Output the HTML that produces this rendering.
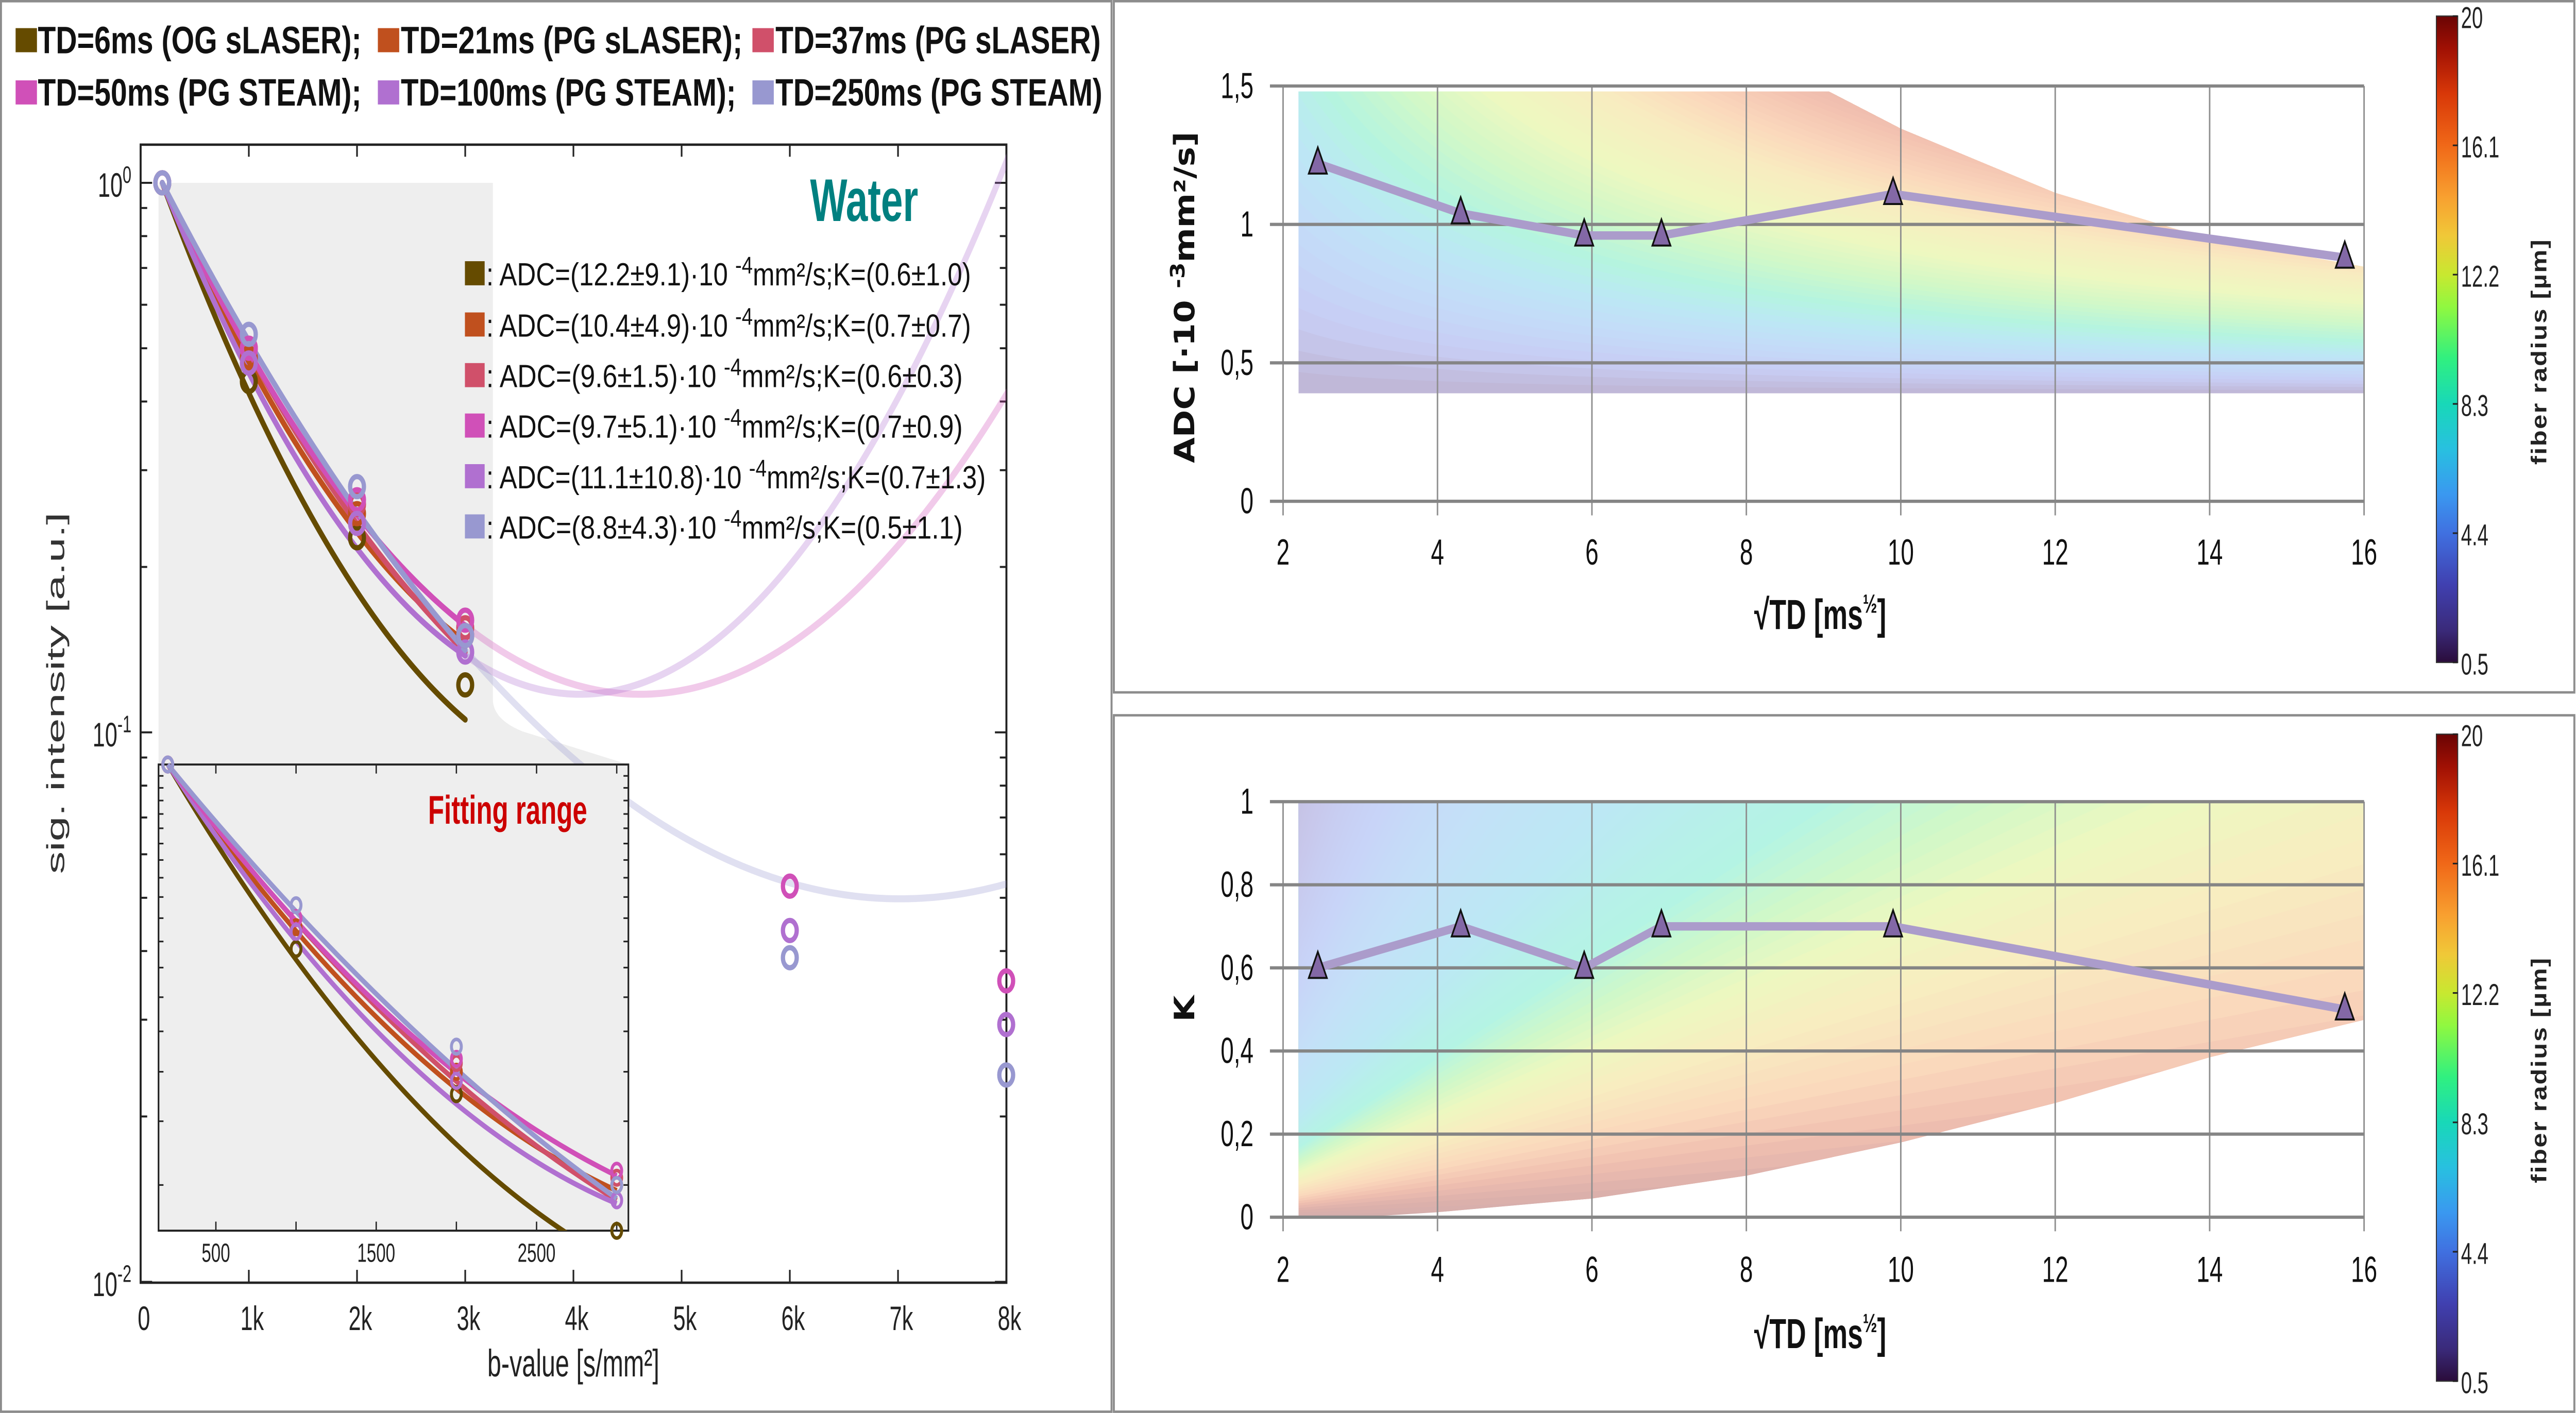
<!DOCTYPE html>
<html><head><meta charset="utf-8">
<style>
html,body{margin:0;padding:0;background:#fff;overflow:hidden;width:100%;height:100%;}
svg{display:block;width:100vw;height:100vh;}
.n{font-family:"Liberation Sans Narrow","Liberation Sans",sans-serif;}
.s{font-family:"Liberation Sans","DejaVu Sans",sans-serif;}
.d{font-family:"DejaVu Sans","Liberation Sans",sans-serif;}
</style></head>
<body>
<svg id="svg" xmlns="http://www.w3.org/2000/svg" viewBox="0 0 1568 703.25" preserveAspectRatio="none">
<defs>
<linearGradient id="cbar" x1="0" y1="1" x2="0" y2="0">
<stop offset="0" stop-color="#2a0c3a"/><stop offset="0.05" stop-color="#3a2a7a"/><stop offset="0.12" stop-color="#4040b0"/><stop offset="0.2" stop-color="#4070e0"/><stop offset="0.26" stop-color="#3a98f0"/><stop offset="0.33" stop-color="#28c0e0"/><stop offset="0.4" stop-color="#18d8b8"/><stop offset="0.47" stop-color="#30f080"/><stop offset="0.55" stop-color="#90f840"/><stop offset="0.6" stop-color="#c8e830"/><stop offset="0.66" stop-color="#f0c838"/><stop offset="0.72" stop-color="#f8a030"/><stop offset="0.8" stop-color="#f06818"/><stop offset="0.88" stop-color="#d83808"/><stop offset="0.95" stop-color="#a01004"/><stop offset="1" stop-color="#6a0404"/>
</linearGradient>
<clipPath id="mainClip"><rect x="85.6" y="72" width="527" height="566.4"/></clipPath>
<clipPath id="insetClip"><rect x="96.5" y="378" width="286" height="234.5"/></clipPath>
<clipPath id="adcClip"><polygon id="adcRegion" points=""/></clipPath>
<clipPath id="kClip"><polygon id="kRegion" points=""/></clipPath>
</defs>

<rect x="0.6" y="0.6" width="676" height="702" fill="none" stroke="#8c8c8c" stroke-width="1.2"/>
<rect x="678" y="0.6" width="889" height="344" fill="none" stroke="#8c8c8c" stroke-width="1.2"/>
<rect x="678" y="356" width="889" height="346.6" fill="none" stroke="#8c8c8c" stroke-width="1.2"/>

<g class="n" font-weight="bold" font-size="19" fill="#111">
<g><rect x="9.5" y="14" width="13" height="12" fill="#654b00"/><text data-fixed="1" x="23" y="26.5" textLength="197" lengthAdjust="spacingAndGlyphs">TD=6ms (OG sLASER);</text></g>
<g><rect x="230" y="14" width="13" height="12" fill="#c0501e"/><text data-fixed="1" x="244" y="26.5" textLength="208" lengthAdjust="spacingAndGlyphs">TD=21ms (PG sLASER);</text></g>
<g><rect x="458" y="14" width="13" height="12" fill="#d0506a"/><text data-fixed="1" x="472" y="26.5" textLength="198" lengthAdjust="spacingAndGlyphs">TD=37ms (PG sLASER)</text></g>
<g><rect x="9.5" y="40" width="13" height="12" fill="#d050b8"/><text data-fixed="1" x="23" y="52.5" textLength="197" lengthAdjust="spacingAndGlyphs">TD=50ms (PG STEAM);</text></g>
<g><rect x="230" y="40" width="13" height="12" fill="#b070d0"/><text data-fixed="1" x="244" y="52.5" textLength="204" lengthAdjust="spacingAndGlyphs">TD=100ms (PG STEAM);</text></g>
<g><rect x="458" y="40" width="13" height="12" fill="#9898d0"/><text data-fixed="1" x="472" y="52.5" textLength="199" lengthAdjust="spacingAndGlyphs">TD=250ms (PG STEAM)</text></g>
</g>

<g id="left"></g>
<g id="adc"></g>
<g id="kchart"></g>
</svg>

<script>
// ===== Left chart data =====
const bVals = [200, 1000, 2000, 3000];
const sigTD6 = [1, 0.435, 0.226, 0.122];
const sigTD21 = [1, 0.48, 0.25, 0.15];
const sigTD37 = [1, 0.50, 0.26, 0.155];
const sigTD50 = [1, 0.50, 0.265, 0.16];
const sigTD100 = [1, 0.47, 0.24, 0.14];
const sigTD250 = [1, 0.53, 0.28, 0.15];
const highB = [6000, 8000];
const highTD50 = [0.0525, 0.0353];
const highTD100 = [0.0436, 0.0294];
const highTD250 = [0.0389, 0.0238];
const adcFit = [12.2, 10.4, 9.6, 9.7, 11.1, 8.8];
const adcErr = [9.1, 4.9, 1.5, 5.1, 10.8, 4.3];
const kFit = [0.6, 0.7, 0.6, 0.7, 0.7, 0.5];
const kErr = [1.0, 0.7, 0.3, 0.9, 1.3, 1.1];
const xTickVals = [0, 1000, 2000, 3000, 4000, 5000, 6000, 7000, 8000];
const xTickLabels = ["0", "1k", "2k", "3k", "4k", "5k", "6k", "7k", "8k"];
const insetTickVals = [500, 1500, 2500];
// ===== Right charts data =====
const sqrtTD = [2.45, 4.3, 5.9, 6.9, 9.9, 15.75];
const adcVals = [1.22, 1.04, 0.96, 0.96, 1.11, 0.88];
const kVals = [0.6, 0.7, 0.6, 0.7, 0.7, 0.5];
const tdTicks = [2, 4, 6, 8, 10, 12, 14, 16];
const adcTicks = [0, 0.5, 1, 1.5];
const adcTickLabels = ["0", "0,5", "1", "1,5"];
const kTicks = [0, 0.2, 0.4, 0.6, 0.8, 1];
const kTickLabels = ["0", "0,2", "0,4", "0,6", "0,8", "1"];
const cbarTicks = [0.5, 4.4, 8.3, 12.2, 16.1, 20];
const adcUpperX = [2.2, 9.07, 10, 12, 14, 16];
const adcUpperY = [1.48, 1.48, 1.346, 1.114, 0.947, 0.847];
const kLowerX = [16, 14, 12, 10, 8, 6, 4, 3, 2.2];
const kLowerY = [0.475, 0.385, 0.275, 0.18, 0.1, 0.045, 0.012, 0, 0];

const NS = "http://www.w3.org/2000/svg";
function mk(parent, tag, attrs, txt) {
  const e = document.createElementNS(NS, tag);
  for (const k in attrs) e.setAttribute(k, attrs[k]);
  if (txt !== undefined) e.textContent = txt;
  parent.appendChild(e);
  return e;
}
const colors = ["#654b00", "#c0501e", "#d0506a", "#d050b8", "#b070d0", "#9898d0"];
const sigAll = [sigTD6, sigTD21, sigTD37, sigTD50, sigTD100, sigTD250];

const X = b => 85.6 + b * 0.06586;
const Y = s => 91 - 273.5 * Math.log10(s);
const IX = b => 131.4 + (b - 500) * 0.0976;
const IY = s => 380.5 - 254 * Math.log10(s);
function fit(b, D, K) { const x = (b - 200) * D * 1e-4; return Math.exp(-x + x * x * K / 6); }
function curvePath(xs, ys, D, K, b1, b2) {
  let d = "";
  for (let b = b1; b <= b2 + 0.1; b += 25) {
    d += (d ? "L" : "M") + xs(b).toFixed(2) + "," + ys(fit(b, D, K)).toFixed(2);
  }
  return d;
}

const L = document.getElementById("left");
const gr = mk(L, "path", {d: "M96.5,91 L300,91 L300,348 Q300,358 318,364 L382.5,380.5 L96.5,380.5 Z", fill: "#eeeeee"});


const box = mk(L, "rect", {x: 85.6, y: 72, width: 527, height: 566.4, fill: "none", stroke: "#222", "stroke-width": 1.2});


const tk = mk(L, "g", {stroke: "#222", "stroke-width": 1});


xTickVals.forEach(v => {
  mk(tk, "line", {x1: X(v), x2: X(v), y1: 638.4, y2: 632});
  mk(tk, "line", {x1: X(v), x2: X(v), y1: 72, y2: 78});
});
for (let d = -2; d <= 0; d++) {
  for (let m = 1; m <= 9; m++) {
    const v = m * Math.pow(10, d);
    if (v > 1.2) continue;
    const y = Y(v);
    const len = m === 1 ? 7 : 4;
    mk(tk, "line", {x1: 85.6, x2: 85.6 + len, y1: y, y2: y});
    mk(tk, "line", {x1: 612.6, x2: 612.6 - len, y1: y, y2: y});
  }
}
const xl = mk(L, "g", {class: "n", "font-size": 17, fill: "#222", "text-anchor": "middle"});


xTickVals.forEach((v, i) => mk(xl, "text", {x: X(v) + 2, y: 662}, xTickLabels[i]));
const yl = mk(L, "g", {class: "n", "font-size": 17, fill: "#222", "text-anchor": "end"});


[0, -1, -2].forEach(p => {
  const t = mk(yl, "text", {x: 80, y: Y(Math.pow(10, p)) + 7});
  mk(t, "tspan", {}, "10");
  mk(t, "tspan", {dy: -7, "font-size": 12}, String(p));
});
const xt = mk(L, "text", {x: 349, y: 685, class: "n", "font-size": 19, fill: "#222", "text-anchor": "middle"}, "b-value [s/mm²]");


const yt = mk(L, "text", {x: 0, y: 0, class: "s", "data-fixed": "1", "font-size": 15, fill: "#333", "text-anchor": "middle", transform: "translate(39,345) rotate(-90)", textLength: 180, lengthAdjust: "spacingAndGlyphs"}, "sig. intensity [a.u.]");



const mc = mk(L, "g", {"clip-path": "url(#mainClip)", fill: "none", "stroke-linecap": "round"});


[3, 4, 5].forEach(i => {
  const p = mk(mc, "path", {d: curvePath(X, Y, adcFit[i], kFit[i], 3000, 8400), stroke: colors[i], "stroke-width": 3.5, opacity: 0.3});
  
  
});
sigAll.forEach((s, i) => {
  const p = mk(mc, "path", {d: curvePath(X, Y, adcFit[i], kFit[i], 200, 3000), stroke: colors[i], "stroke-width": 3});
  
  
});
const mp = mk(L, "g", {fill: "none", "stroke-width": 2.6});


sigAll.forEach((s, i) => {
  s.forEach((v, j) => {
    const c = mk(mp, "ellipse", {cx: X(bVals[j]), cy: Y(v), rx: 4.2, ry: 5, stroke: colors[i]});
    
    
  });
});
[[highTD50, 3], [highTD100, 4], [highTD250, 5]].forEach(([arr, i]) => {
  arr.forEach((v, j) => {
    const c = mk(mp, "ellipse", {cx: X(highB[j]), cy: Y(v), rx: 4.2, ry: 5, stroke: colors[i]});
    
    
  });
});

const wt = mk(L, "text", {x: 526, y: 110, class: "n", "font-size": 30, "font-weight": "bold", fill: "#008080", "text-anchor": "middle"}, "Water");


const fl = mk(L, "g", {class: "n", "font-size": 16, fill: "#111"});


const rowsY = [136, 161.5, 186.7, 211.8, 237, 262];
const rowLen = [295, 295, 290, 290, 304, 290];
adcFit.forEach((a, i) => {
  const g = mk(fl, "g", {});
  
  
  mk(g, "rect", {x: 283, y: rowsY[i] - 6, width: 12, height: 12, fill: colors[i]});
  const t = mk(g, "text", {x: 296, y: rowsY[i] + 6, "data-fixed": "1", textLength: rowLen[i], lengthAdjust: "spacingAndGlyphs"});
  mk(t, "tspan", {}, ": ADC=(" + a.toFixed(1) + "±" + adcErr[i].toFixed(1) + ")·10 ");
  mk(t, "tspan", {dy: -6, "font-size": 12}, "-4");
  mk(t, "tspan", {dy: 6}, "mm²/s;K=(" + kFit[i].toFixed(1) + "±" + kErr[i].toFixed(1) + ")");
});

const ins = mk(L, "g", {});


mk(ins, "rect", {x: 96.5, y: 380.5, width: 286, height: 232, fill: "#eeeeee", stroke: "#222", "stroke-width": 1});
const itk = mk(ins, "g", {stroke: "#222", "stroke-width": 0.8});
[500, 1000, 1500, 2000, 2500, 3000].forEach(v => {
  mk(itk, "line", {x1: IX(v), x2: IX(v), y1: 612.5, y2: 608});
  mk(itk, "line", {x1: IX(v), x2: IX(v), y1: 380.5, y2: 385});
});
for (let m = 1; m <= 10; m += 0.5) {
  const y = IY(m / 10);
  if (y < 381 || y > 612) continue;
  mk(itk, "line", {x1: 96.5, x2: 99.5, y1: y, y2: y});
  mk(itk, "line", {x1: 382.5, x2: 379.5, y1: y, y2: y});
}
const il = mk(ins, "g", {class: "n", "font-size": 13, fill: "#222", "text-anchor": "middle"});
insetTickVals.forEach(v => mk(il, "text", {x: IX(v), y: 628}, String(v)));
const ic = mk(ins, "g", {"clip-path": "url(#insetClip)", fill: "none"});
[0, 1, 2, 4, 3, 5].forEach(order => {
  const p = mk(ic, "path", {d: curvePath(IX, IY, adcFit[order], kFit[order], 200, 3000), stroke: colors[order], "stroke-width": 2.6});
  
  
});
sigAll.forEach((s, i) => {
  s.forEach((v, j) => {
    const c = mk(ins, "ellipse", {cx: IX(bVals[j]), cy: IY(v), rx: 3, ry: 3.6, fill: "none", stroke: colors[i], "stroke-width": 1.8});
    
    
  });
});
const fr = mk(ins, "text", {x: 309, y: 410, class: "n", "font-size": 20, "font-weight": "bold", fill: "#cc0000", "text-anchor": "middle"}, "Fitting range");



// ===== Right charts =====
const TX = t => 781 + 47 * (t - 2);
function lerpColor(stops, v) {
  if (v <= stops[0][0]) return stops[0][1];
  for (let i = 1; i < stops.length; i++) {
    if (v <= stops[i][0]) {
      const [a, ca] = stops[i - 1], [b, cb] = stops[i];
      const f = (v - a) / (b - a);
      const pa = [1, 3, 5].map(k => parseInt(ca.substr(k, 2), 16));
      const pb = [1, 3, 5].map(k => parseInt(cb.substr(k, 2), 16));
      return "rgb(" + pa.map((x, k) => Math.round(x + (pb[k] - x) * f)).join(",") + ")";
    }
  }
  return stops[stops.length - 1][1];
}
function drawColorbar(g, top, bottom) {
  const r = mk(g, "rect", {x: 1483, y: top, width: 13, height: bottom - top, fill: "url(#cbar)", stroke: "#333", "stroke-width": 0.6});
  
  
  const lab = mk(g, "g", {class: "n", "font-size": 15, fill: "#222"});
  
  
  cbarTicks.forEach(v => {
    const y = bottom - (v - 0.5) / 19.5 * (bottom - top);
    mk(g, "line", {x1: 1493, x2: 1496, y1: y, y2: y, stroke: "#222", "stroke-width": 0.8});
    mk(lab, "text", {x: 1498, y: y + 6}, String(v));
  });
  const t = mk(g, "text", {x: 0, y: 0, class: "s", "data-fixed": "1", "font-size": 13, "font-weight": "bold", fill: "#222", "text-anchor": "middle", transform: "translate(1550," + (top + (bottom - top) * 0.52) + ") rotate(-90)", textLength: 112, lengthAdjust: "spacing"}, "fiber radius [µm]");
  
  
}
function drawGrid(g, yTicks, yLabels, YS, yTop, yBot) {
  const gg = mk(g, "g", {});
  
  
  tdTicks.forEach(t => mk(gg, "line", {x1: TX(t), x2: TX(t), y1: yTop, y2: yBot + 7, stroke: "#8f8f8f", "stroke-width": 0.9}));
  yTicks.forEach(v => mk(gg, "line", {x1: 773, x2: TX(16), y1: YS(v), y2: YS(v), stroke: "#858585", "stroke-width": 1.6}));
  const yl = mk(g, "g", {class: "n", "font-size": 18, fill: "#111", "text-anchor": "end"});
  
  
  yTicks.forEach((v, i) => mk(yl, "text", {x: 763, y: YS(v) + 6}, yLabels[i]));
}
function drawSeries(g, ys, YS) {
  let d = "";
  sqrtTD.forEach((t, i) => d += (i ? "L" : "M") + TX(t) + "," + YS(ys[i]));
  const ln = mk(g, "path", {d: d, fill: "none", stroke: "#ab9ccb", "stroke-width": 4.2, "stroke-linejoin": "round"});
  
  
  sqrtTD.forEach((t, i) => {
    const x = TX(t), y = YS(ys[i]);
    const tri = mk(g, "polygon", {points: `${x},${y - 8} ${x - 5.5},${y + 5} ${x + 5.5},${y + 5}`, fill: "#8368a6", stroke: "#111", "stroke-width": 1});
    
    
  });
}
function drawXAxis(g, yLab, yTitle) {
  const xl = mk(g, "g", {class: "n", "font-size": 18, fill: "#111", "text-anchor": "middle"});
  
  
  tdTicks.forEach(t => mk(xl, "text", {x: TX(t), y: yLab}, String(t)));
  const tt = mk(g, "text", {x: 1108, y: yTitle, class: "n", "font-size": 21, "font-weight": "bold", fill: "#111", "text-anchor": "middle"});
  
  
  mk(tt, "tspan", {}, "√TD [ms");
  mk(tt, "tspan", {dy: -8, "font-size": 13}, "½");
  mk(tt, "tspan", {dy: 8}, "]");
}

const A = document.getElementById("adc");
const AY = v => 249.5 - 137.8 * v;
{
  let pts = [[TX(2.2), AY(0.39)]];
  adcUpperX.forEach((x, i) => pts.push([TX(x), AY(adcUpperY[i])]));
  pts.push([TX(16), AY(0.39)]);
  document.getElementById("adcRegion").setAttribute("points", pts.map(p => p.join(",")).join(" "));
  const stops = [[0, "#c0b8d8"], [4000, "#c8cdf4"], [9000, "#c4dcf8"], [14000, "#bce8f4"], [19000, "#b4f4e0"], [26000, "#d0f8c8"], [34000, "#eef8c0"], [44000, "#f8ecc0"], [52000, "#fbd8bc"], [62000, "#f2c0b0"], [75000, "#deb0ab"], [100000, "#d4aeac"]];
  const bg = mk(A, "g", {"clip-path": "url(#adcClip)"});
  
  
  const cx = TX(2.2), cy = AY(0.39);
  for (let t = 0; t <= 110000; t += 1200) {
    let p = [];
    for (let xp = 0; xp <= 700; xp += 5) {
      const yp = Math.min(t / (xp + 113), 300);
      p.push((cx + xp) + "," + (cy - yp));
    }
    p.push((cx + 700) + "," + (cy - 300), cx + "," + (cy - 300));
    mk(bg, "polygon", {points: p.join(" "), fill: lerpColor(stops, t)});
  }
}
drawGrid(A, adcTicks, adcTickLabels, AY, AY(1.5), AY(0));
drawSeries(A, adcVals, AY);
drawXAxis(A, 281, 313);
{
  const t = mk(A, "text", {x: 0, y: 0, class: "d", "data-fixed": "1", "font-size": 17, "font-weight": "bold", fill: "#111", "text-anchor": "middle", transform: "translate(727,148) rotate(-90)", textLength: 165, lengthAdjust: "spacingAndGlyphs"});
  
  
  mk(t, "tspan", {}, "ADC [·10 ");
  mk(t, "tspan", {dy: -6, "font-size": 12}, "-3");
  mk(t, "tspan", {dy: 6}, "mm²/s]");
}
drawColorbar(A, 8, 329.7);

const K = document.getElementById("kchart");
const KY = v => 605.8 - 206.8 * v;
{
  let pts = [[TX(2.2), KY(1)], [TX(16), KY(1)]];
  kLowerX.forEach((x, i) => pts.push([TX(x), KY(kLowerY[i])]));
  document.getElementById("kRegion").setAttribute("points", pts.map(p => p.join(",")).join(" "));
  const stops = [[0, "#d4aeac"], [0.01, "#ddb0ab"], [0.022, "#f0c0b0"], [0.035, "#fad8bc"], [0.055, "#f8ecc0"], [0.075, "#eef8c0"], [0.095, "#d0f8c8"], [0.12, "#b4f4e4"], [0.18, "#bce8f4"], [0.27, "#c4e0f8"], [0.4, "#c8d4f8"], [0.6, "#c8c8ec"], [0.8, "#c4c0e0"]];
  const bg = mk(K, "g", {"clip-path": "url(#kClip)"});
  
  
  for (let t = 0; t <= 0.8; t += 0.004) {
    const p = [[2.2, t * (2.2 - 0.82)], [16, t * (16 - 0.82)], [16, 1.3], [2.2, 1.3]];
    mk(bg, "polygon", {points: p.map(q => TX(q[0]) + "," + KY(q[1])).join(" "), fill: lerpColor(stops, t)});
  }
}
drawGrid(K, kTicks, kTickLabels, KY, KY(1), KY(0));
drawSeries(K, kVals, KY);
drawXAxis(K, 638, 671);
{
  const t = mk(K, "text", {x: 0, y: 0, class: "d", "font-size": 17, "font-weight": "bold", fill: "#111", "text-anchor": "middle", transform: "translate(727,502) rotate(-90)"}, "K");
  
  
}
drawColorbar(K, 365.4, 687.4);

document.querySelectorAll("text.n, .n text").forEach(t => {
  if (t.getAttribute("data-fixed")) return;
  try {
    const w = t.getComputedTextLength();
    if (w > 0) {
      t.setAttribute("textLength", (w * 0.8).toFixed(2));
      t.setAttribute("lengthAdjust", "spacingAndGlyphs");
    }
  } catch (e) {}
});
</script>
</body></html>
